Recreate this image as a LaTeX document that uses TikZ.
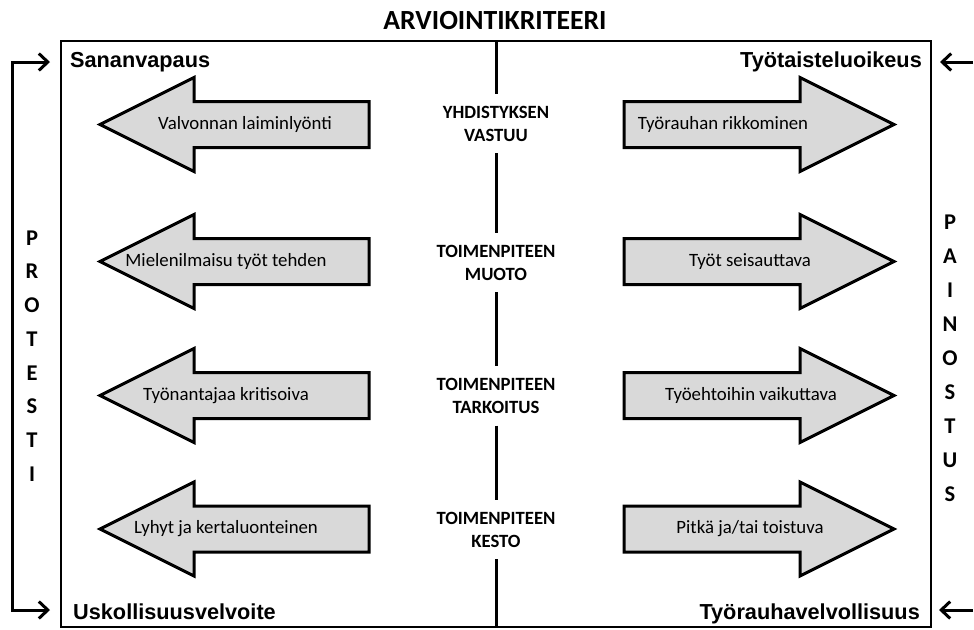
\documentclass[tikz,border=0pt]{standalone}
\usepackage{fontspec}
\setmainfont{Carlito}
\newfontfamily\arialfont{Liberation Sans}
\usetikzlibrary{arrows.meta}
\newcommand\myleftarrow[1]{\draw[arrowshape] (100,#1) -- (194,#1-47) -- (194,#1-23) -- (369,#1-23) -- (369,#1+23) -- (194,#1+23) -- (194,#1+47) -- cycle;}
\newcommand\myrightarrow[1]{\draw[arrowshape] (894,#1) -- (800,#1-47) -- (800,#1-23) -- (624,#1-23) -- (624,#1+23) -- (800,#1+23) -- (800,#1+47) -- cycle;}
\begin{document}
\begin{tikzpicture}[x=1pt,y=-1pt,
  frame/.style={draw=black,line width=1.8pt},
  arrowshape/.style={draw=black,fill=black!15,line width=3pt,line join=miter},
  arrowtext/.style={font=\fontsize{18.8}{22}\selectfont,inner sep=0pt},
  critlabel/.style={font=\bfseries\fontsize{18.7}{23}\selectfont,align=center,minimum height=59pt,inner sep=0pt},
  cornerlabel/.style={font=\arialfont\bfseries\fontsize{21.7}{24}\selectfont,inner sep=0pt},
  vletter/.style={font=\bfseries\fontsize{22.5}{24}\selectfont,inner sep=0pt},
  barb/.tip={Straight Barb[length=9pt,width=17pt]},
  sidearrow/.style={line width=3pt,-barb},
  centerline/.style={line width=3pt}]
\useasboundingbox (0,0) rectangle (974,629);
% title
\node[font=\bfseries\fontsize{27.7}{30}\selectfont,inner sep=0pt] (title) at (495,21) {ARVIOINTIKRITEERI};
% frame
\draw[frame] (61,41) rectangle (931,627);
% corner labels
\node[cornerlabel,anchor=base west] (sv) at (70,67.5) {Sananvapaus};
\node[cornerlabel,anchor=base west] (uv) at (73,619) {Uskollisuusvelvoite};
\node[cornerlabel,anchor=base east] (to) at (922,67.5) {Työtaisteluoikeus};
\node[cornerlabel,anchor=base east] (trv) at (920,619) {Työrauhavelvollisuus};
% center criteria
\coordinate (ctop) at (496,41);
\coordinate (cbot) at (496,627);
\node[critlabel] (k1) at (496,123.5) {YHDISTYKSEN\\VASTUU};
\node[critlabel] (k2) at (496,262.5) {TOIMENPITEEN\\MUOTO};
\node[critlabel] (k3) at (496,396) {TOIMENPITEEN\\TARKOITUS};
\node[critlabel] (k4) at (496,529.5) {TOIMENPITEEN\\KESTO};
\draw[centerline] (ctop) -- (k1.north);
\draw[centerline] (k1.south) -- (k2.north);
\draw[centerline] (k2.south) -- (k3.north);
\draw[centerline] (k3.south) -- (k4.north);
\draw[centerline] (k4.south) -- (cbot);
% left arrows
\myleftarrow{124.5}
\myleftarrow{261.5}
\myleftarrow{395.5}
\myleftarrow{529}
\node[arrowtext] (l1) at (245,124.5) {Valvonnan laiminlyönti};
\node[arrowtext] (l2) at (226,261.5) {Mielenilmaisu työt tehden};
\node[arrowtext] (l3) at (226,395.5) {Työnantajaa kritisoiva};
\node[arrowtext] (l4) at (226,529) {Lyhyt ja kertaluonteinen};
% right arrows
\myrightarrow{124.5}
\myrightarrow{261.5}
\myrightarrow{395.5}
\myrightarrow{529}
\node[arrowtext] (r1) at (723,124.5) {Työrauhan rikkominen};
\node[arrowtext] (r2) at (750,261.5) {Työt seisauttava};
\node[arrowtext] (r3) at (751,395.5) {Työehtoihin vaikuttava};
\node[arrowtext] (r4) at (750,529) {Pitkä ja/tai toistuva};
% PROTESTI
\foreach \ch [count=\i from 0] in {P,R,O,T,E,S,T,I} {
  \node[vletter] (p\i) at (32,238+33.7*\i) {\ch};
}
% PAINOSTUS
\foreach \ch [count=\i from 0] in {P,A,I,N,O,S,T,U,S} {
  \node[vletter] (q\i) at (950,222+34*\i) {\ch};
}
% left bracket
\coordinate (b0) at (50,62);
\coordinate (b1) at (12,62);
\coordinate (b2) at (12,610);
\coordinate (b3) at (50,610);
\draw[line width=3pt,barb-barb,line join=miter] (b0) -- (b1) -- (b2) -- (b3);
% right side arrows
\coordinate (s0) at (973,62);
\coordinate (s1) at (940,62);
\coordinate (s2) at (973,610);
\coordinate (s3) at (939,610);
\draw[sidearrow] (s0) -- (s1);
\draw[sidearrow] (s2) -- (s3);
\end{tikzpicture}
\end{document}
